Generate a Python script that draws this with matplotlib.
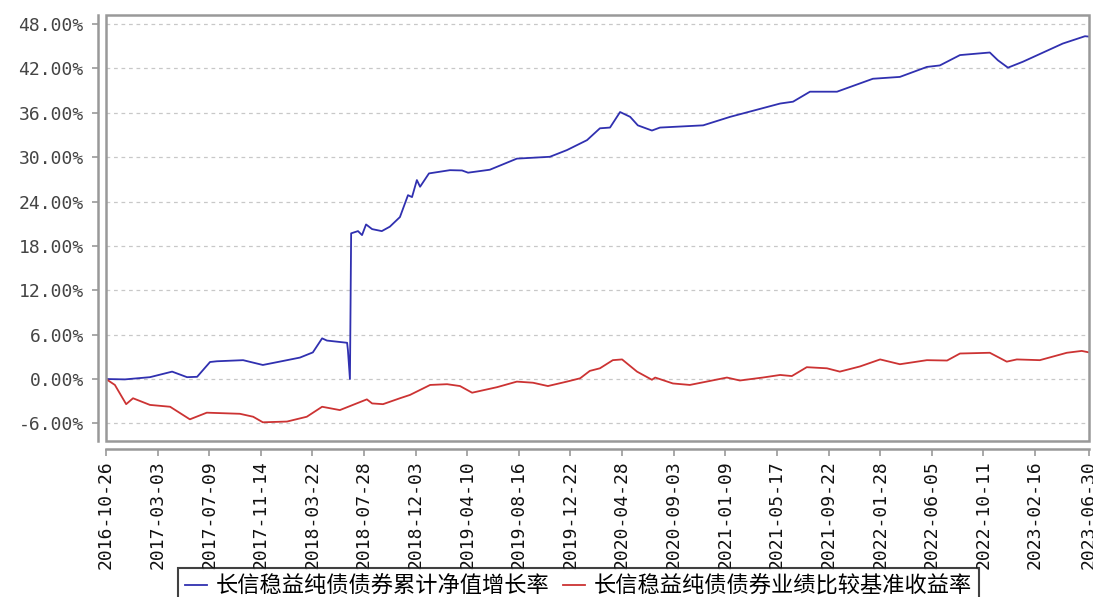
import matplotlib
matplotlib.use("Agg")
import matplotlib.pyplot as plt
from matplotlib.patches import Rectangle
import pandas as pd

plt.rcParams['font.family'] = ['Noto Sans CJK SC', 'DejaVu Sans']
plt.rcParams['axes.unicode_minus'] = False

fund_dates = ["2016-10-26", "2016-12-12", "2017-02-12", "2017-04-08", "2017-05-15", "2017-06-09",
              "2017-07-11", "2017-07-28", "2017-10-01", "2017-11-19", "2018-01-18", "2018-02-19",
              "2018-03-23", "2018-04-15", "2018-04-27", "2018-06-16", "2018-06-18", "2018-06-23",
              "2018-06-26", "2018-07-13", "2018-07-23", "2018-08-02", "2018-08-17", "2018-09-10",
              "2018-09-30", "2018-10-25", "2018-11-14", "2018-11-24", "2018-12-06", "2018-12-14",
              "2019-01-05", "2019-02-26", "2019-03-28", "2019-04-12", "2019-06-05", "2019-08-11",
              "2019-11-01", "2019-12-13", "2020-02-01", "2020-03-04", "2020-03-29", "2020-04-23",
              "2020-05-18", "2020-06-06", "2020-07-11", "2020-07-31", "2020-11-15", "2021-01-21",
              "2021-05-25", "2021-06-26", "2021-08-07", "2021-10-13", "2022-01-10", "2022-03-18",
              "2022-05-24", "2022-06-25", "2022-08-14", "2022-10-27", "2022-11-16", "2022-12-11",
              "2023-01-17", "2023-04-26", "2023-06-20", "2023-06-30"]
fund_values = [0.00, -0.05, 0.25, 1.00, 0.25, 0.30,
               2.30, 2.40, 2.55, 1.90, 2.55, 2.90,
               3.60, 5.50, 5.20, 4.90, 3.90, 0.00,
               19.70, 20.00, 19.46, 20.90, 20.27, 20.00,
               20.60, 21.90, 24.86, 24.60, 26.90, 26.00,
               27.80, 28.24, 28.20, 27.90, 28.30, 29.80,
               30.05, 30.95, 32.30, 33.90, 34.00, 36.10,
               35.45, 34.30, 33.60, 34.00, 34.30, 35.45,
               37.25, 37.50, 38.85, 38.85, 40.60, 40.85,
               42.20, 42.40, 43.80, 44.15, 43.10, 42.10,
               42.90, 45.36, 46.35, 46.30]

bench_dates = ["2016-10-26", "2016-11-17", "2016-12-15", "2017-01-01", "2017-02-12", "2017-04-03",
               "2017-05-22", "2017-07-03", "2017-09-23", "2017-10-26", "2017-11-19", "2018-01-18",
               "2018-03-08", "2018-04-15", "2018-05-29", "2018-08-04", "2018-08-17", "2018-09-13",
               "2018-10-25", "2018-11-19", "2019-01-08", "2019-02-19", "2019-03-23", "2019-04-22",
               "2019-06-23", "2019-08-11", "2019-09-20", "2019-10-27", "2019-12-13", "2020-01-15",
               "2020-02-08", "2020-03-04", "2020-04-05", "2020-04-28", "2020-06-04", "2020-07-11",
               "2020-07-19", "2020-09-01", "2020-10-13", "2021-01-13", "2021-02-14", "2021-04-12",
               "2021-05-25", "2021-06-23", "2021-07-30", "2021-09-18", "2021-10-20", "2021-12-09",
               "2022-01-28", "2022-03-18", "2022-05-24", "2022-07-13", "2022-08-14", "2022-10-27",
               "2022-12-08", "2023-01-02", "2023-02-28", "2023-05-06", "2023-06-12", "2023-06-30"]
bench_values = [0.00, -0.80, -3.40, -2.60, -3.50, -3.75,
                -5.45, -4.55, -4.70, -5.10, -5.85, -5.75,
                -5.10, -3.75, -4.20, -2.75, -3.30, -3.40,
                -2.60, -2.15, -0.80, -0.70, -0.95, -1.85,
                -1.10, -0.35, -0.50, -0.95, -0.35, 0.10,
                1.10, 1.45, 2.55, 2.65, 1.00, -0.10,
                0.20, -0.60, -0.80, 0.20, -0.20, 0.20,
                0.55, 0.40, 1.60, 1.45, 1.00, 1.70,
                2.65, 2.00, 2.55, 2.50, 3.45, 3.55,
                2.35, 2.65, 2.55, 3.55, 3.80, 3.60]

tick_dates = ["2016-10-26", "2017-03-03", "2017-07-09", "2017-11-14", "2018-03-22", "2018-07-28",
              "2018-12-03", "2019-04-10", "2019-08-16", "2019-12-22", "2020-04-28", "2020-09-03",
              "2021-01-09", "2021-05-17", "2021-09-22", "2022-01-28", "2022-06-05", "2022-10-11",
              "2023-02-16", "2023-06-30"]
y_ticks = [-6, 0, 6, 12, 18, 24, 30, 36, 42, 48]

fund_label = "长信稳益纯债债券累计净值增长率"
bench_label = "长信稳益纯债债券业绩比较基准收益率"

fig = plt.figure(figsize=(10.93, 5.97), dpi=100)
ax = fig.add_axes([106 / 1093, 1 - 441 / 597, 983 / 1093, 426 / 597])

# spines first (set_position resets ticks)
for s in ['top', 'right']:
    ax.spines[s].set_visible(False)
for s in ['left', 'bottom']:
    ax.spines[s].set_position(('outward', 6))
    ax.spines[s].set_color('#999999')
    ax.spines[s].set_linewidth(1.8)
ax.add_patch(Rectangle((0, 0), 1, 1, transform=ax.transAxes, fill=False,
                       edgecolor='#999999', lw=1.8, clip_on=False, zorder=5))

ax.plot(pd.to_datetime(fund_dates), fund_values, color='#3030b0', lw=1.3, label=fund_label)
ax.plot(pd.to_datetime(bench_dates), bench_values, color='#cc3333', lw=1.3, label=bench_label)

ax.set_xlim(pd.Timestamp(tick_dates[0]), pd.Timestamp(tick_dates[-1]))
ax.set_ylim(-8.38, 49.22)

ax.set_yticks(y_ticks)
ax.set_yticklabels([f"{v:.2f}%" for v in y_ticks])
ax.set_xticks(pd.to_datetime(tick_dates))
ax.set_xticklabels(tick_dates)

ax.tick_params(axis='y', length=4, width=1.2, color='#999999', pad=6,
               labelsize=13, labelcolor='#444444', labelfontfamily='DejaVu Sans Mono')
ax.tick_params(axis='x', length=5, width=1.2, color='#999999', pad=3,
               labelsize=13, labelcolor='#111111', labelfontfamily='DejaVu Sans Mono',
               labelrotation=90)

ax.grid(axis='y', linestyle=(0, (3, 3)), color='#c8c8c8', lw=0.9)
ax.set_axisbelow(True)

leg = fig.legend(loc='upper left', bbox_to_anchor=(178 / 1093, 1 - 568 / 597), ncol=2,
                 fontsize=16, frameon=True, fancybox=False, edgecolor='#111111',
                 handlelength=1.0, handletextpad=0.4, columnspacing=0.6,
                 borderpad=0.3, borderaxespad=0)
leg.get_frame().set_linewidth(1.5)

fig.savefig("out.png", dpi=100)
